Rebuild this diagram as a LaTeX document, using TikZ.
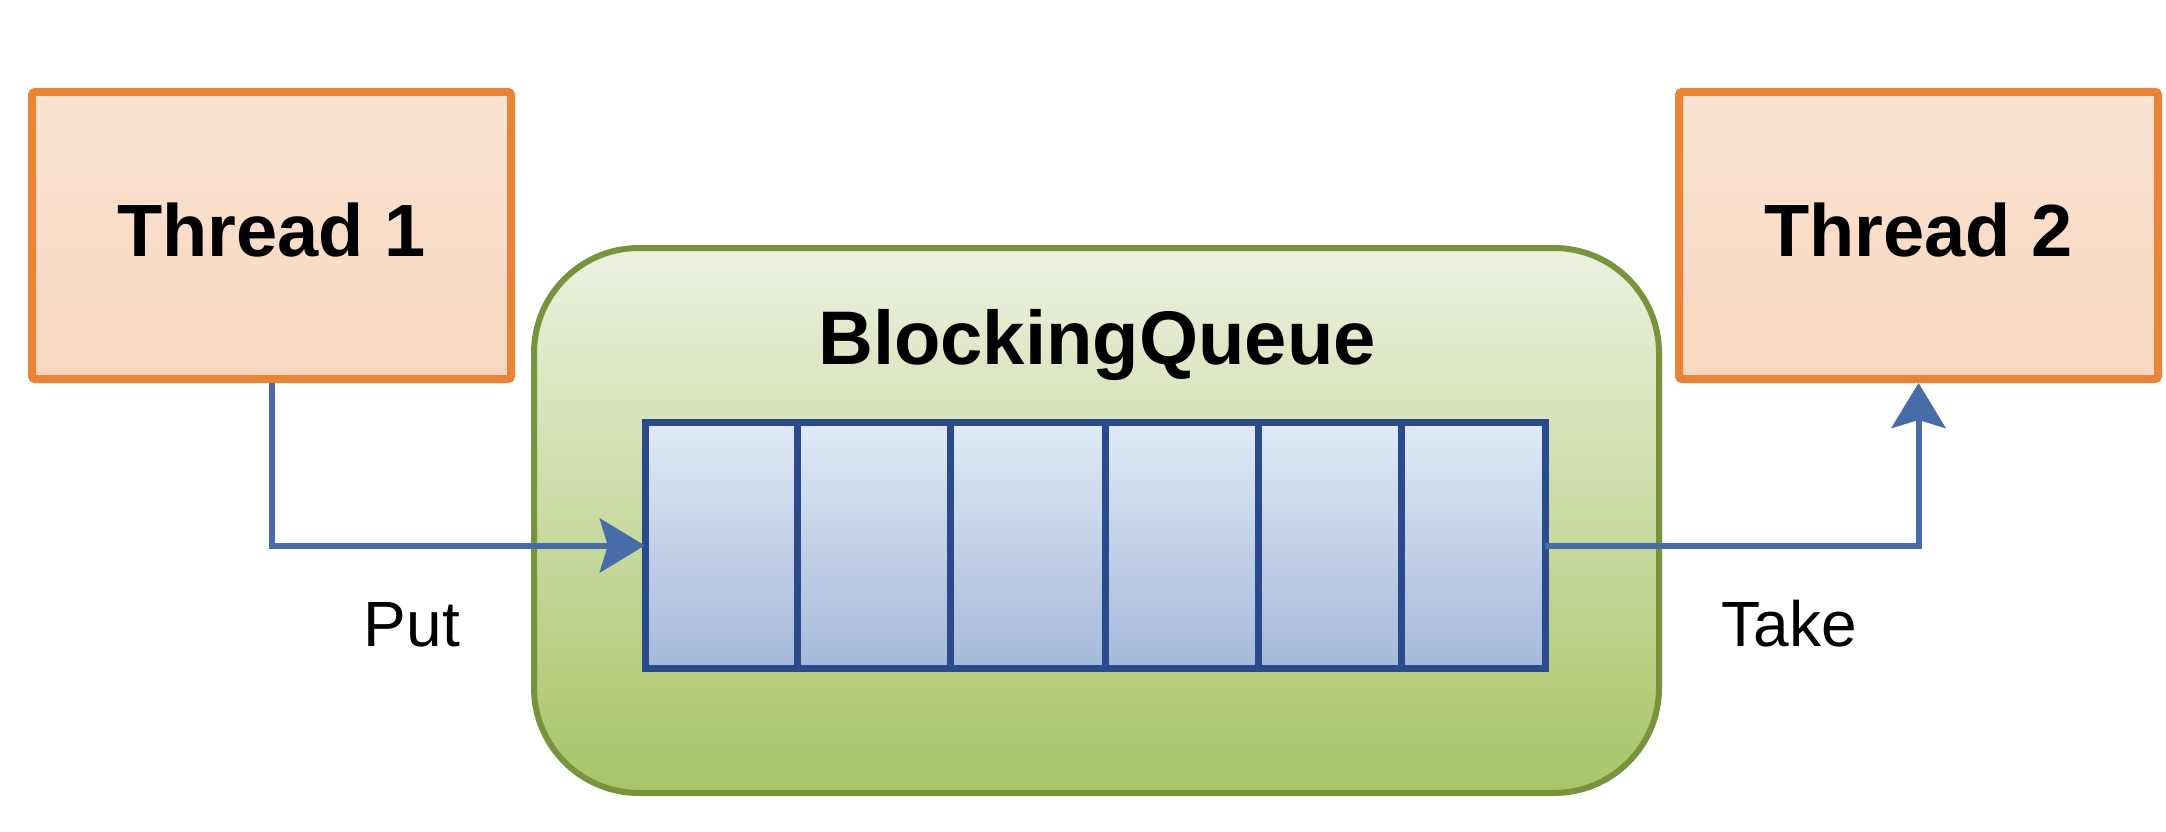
\documentclass[tikz,border=0pt]{standalone}
\usepackage{fontspec}
\setmainfont{Liberation Sans}
\usetikzlibrary{arrows.meta,fit}

\definecolor{threadedge}{RGB}{235,131,55}
\definecolor{threadtop}{RGB}{250,227,210}
\definecolor{threadbot}{RGB}{247,215,192}
\definecolor{queueedge}{RGB}{119,147,60}
\definecolor{queuetop}{RGB}{236,241,224}
\definecolor{queuebot}{RGB}{168,196,102}
\definecolor{celledge}{RGB}{42,74,140}
\definecolor{celltop}{RGB}{224,233,246}
\definecolor{cellbot}{RGB}{164,185,218}
\definecolor{flow}{RGB}{72,108,168}

\tikzset{
  threadbox/.style={draw=threadedge, line width=8pt, rounded corners=3pt,
    top color=threadtop, bottom color=threadbot,
    minimum width=479pt, minimum height=287pt, inner sep=0pt,
    text depth=12pt,
    font=\fontsize{74}{90}\selectfont\bfseries},
  queuebox/.style={draw=queueedge, line width=6pt, rounded corners=105pt,
    top color=queuetop, bottom color=queuebot,
    minimum width=1125pt, minimum height=545pt, inner sep=0pt},
  cellbox/.style={draw=celledge, line width=7pt,
    top color=celltop, bottom color=cellbot,
    minimum height=246pt, inner sep=0pt},
  flowline/.style={draw=flow, line width=6pt,
    -{Stealth[length=45pt, width=54pt, inset=8pt]}},
  oplabel/.style={anchor=base, font=\fontsize{64}{76}\selectfont},
}

\begin{document}
\begin{tikzpicture}[x=1pt, y=-1pt]
  % canvas
  \fill[white] (0,0) rectangle (2166,832);
  \useasboundingbox (0,0) rectangle (2166,832);

  % producer and consumer threads
  \node[threadbox] (t1) at (271.5,235.5) {Thread 1};
  \node[threadbox] (t2) at (1918.5,235.5) {Thread 2};

  % the blocking queue container
  \node[queuebox] (bq) at (1096.5,520.5) {};
  \node[anchor=base, font=\fontsize{76}{90}\selectfont\bfseries]
    (title) at (1097,364) {BlockingQueue};

  % six slots of the queue
  \node[cellbox, minimum width=152pt] (c1) at (721,545.5) {};
  \node[cellbox, minimum width=153pt] (c2) at (873.5,545.5) {};
  \node[cellbox, minimum width=155pt] (c3) at (1027.5,545.5) {};
  \node[cellbox, minimum width=153pt] (c4) at (1181.5,545.5) {};
  \node[cellbox, minimum width=143pt] (c5) at (1329.5,545.5) {};
  \node[cellbox, minimum width=144pt] (c6) at (1473,545.5) {};
  \node[fit=(c1)(c6), inner sep=-3.5pt] (q) {};

  % put and take
  \draw[flowline] (t1.south) |- (q.west);
  \draw[flowline] (q.east) -| (t2.south);

  \node[oplabel] (put) at (412,646) {Put};
  \node[oplabel] (take) at (1789,646) {Take};
\end{tikzpicture}
\end{document}
